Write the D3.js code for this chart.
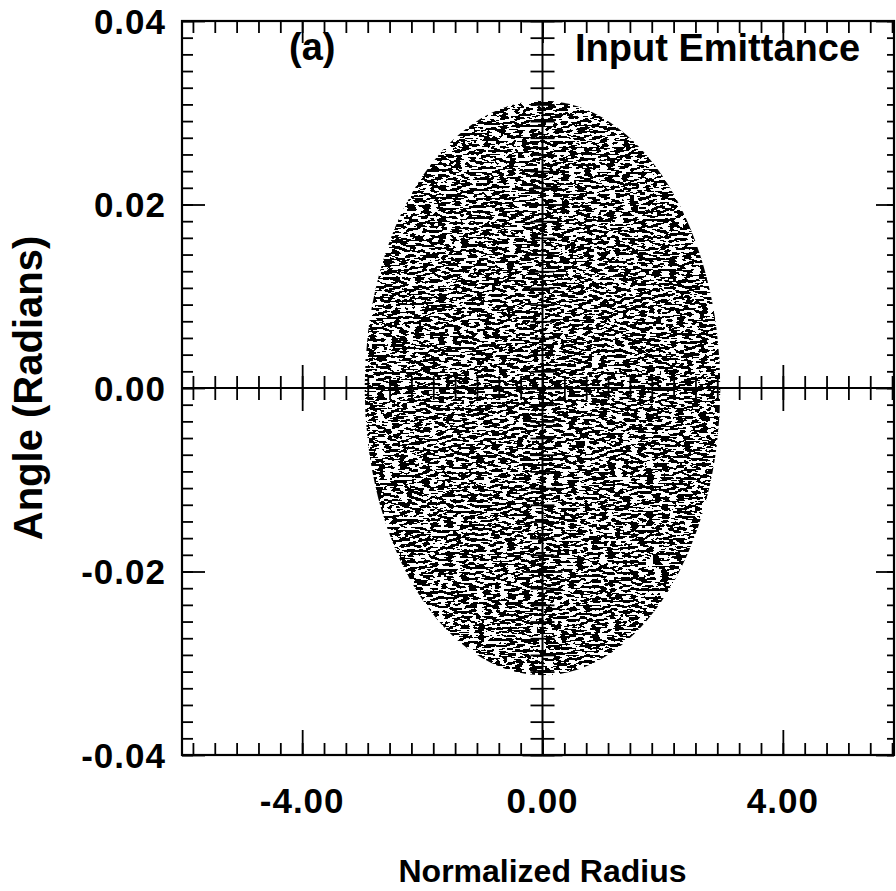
<!DOCTYPE html>
<html lang="en">
<head>
    <meta charset="UTF-8">
    <title>Input Emittance</title>
    <script type="text/javascript" src="https://cdnjs.cloudflare.com/ajax/libs/d3/7.8.5/d3.min.js"></script>
    <style>
        body { margin: 0; background: #fff; }
        text { font-family: "Liberation Sans", Arial, sans-serif; font-weight: bold; fill: #000; }
    </style>
</head>
<body>
<div id="chart"></div>
<script>
    // axis ranges and ticks
    var xDomain = [-6, 5.85];
    var yDomain = [-0.04, 0.04];
    var xMajor = [-4, 0, 4];
    var xLabels = ["-4.00", "0.00", "4.00"];
    var yMajor = [-0.04, -0.02, 0, 0.02, 0.04];
    var yLabels = ["-0.04", "-0.02", "0.00", "0.02", "0.04"];
    var minorPerMajor = 11;

    // the particle cloud fills an upright ellipse centred on the origin
    var cloudCentre = [0, 0];
    var cloudHalfRadius = 2.96;
    var cloudHalfAngle = 0.0313;

    var width = 896, height = 891,
        margin = {top: 21, right: 2, bottom: 136, left: 182};

    var svg = d3.select("#chart")
        .append("svg")
        .attr("width", width)
        .attr("height", height);

    var x = d3.scaleLinear()
        .domain(xDomain)
        .range([margin.left, width - margin.right]);

    var y = d3.scaleLinear()
        .domain(yDomain)
        .range([height - margin.bottom, margin.top]);

    function minorTicks(domain, majors) {
        var step = (majors[1] - majors[0]) / minorPerMajor;
        var out = [];
        for (var i = -200; i <= 200; i++) {
            var v = majors[0] + i * step;
            if (v >= domain[0] - 1e-9 && v <= domain[1] + 1e-9) out.push(v);
        }
        return out;
    }
    var xMinor = minorTicks(xDomain, xMajor);
    var yMinor = minorTicks(yDomain, yMajor);

    // speckle texture for the scattered particles
    var defs = svg.append("defs");
    var f = defs.append("filter")
        .attr("id", "speckle")
        .attr("x", 0).attr("y", 0).attr("width", 1).attr("height", 1);
    f.append("feTurbulence")
        .attr("type", "fractalNoise")
        .attr("baseFrequency", "0.13 0.36")
        .attr("numOctaves", 2)
        .attr("seed", 11)
        .attr("result", "noise");
    f.append("feColorMatrix")
        .attr("in", "noise")
        .attr("type", "matrix")
        .attr("values", "0 0 0 0 0  0 0 0 0 0  0 0 0 0 0  1 0 0 0 0")
        .attr("result", "alpha");
    f.append("feComponentTransfer")
        .attr("in", "alpha")
        .attr("result", "bw")
        .append("feFuncA")
        .attr("type", "discrete")
        .attr("tableValues", "0 0 0 0 0 0 0 0 0 0 1 1 1 1 1 1 1 1 1 1");
    f.append("feComposite")
        .attr("in", "bw")
        .attr("in2", "SourceGraphic")
        .attr("operator", "in");

    svg.append("ellipse")
        .attr("cx", x(cloudCentre[0]))
        .attr("cy", y(cloudCentre[1]))
        .attr("rx", x(cloudHalfRadius) - x(0))
        .attr("ry", y(0) - y(cloudHalfAngle))
        .attr("fill", "#000")
        .attr("filter", "url(#speckle)");

    // frame
    svg.append("rect")
        .attr("x", x(xDomain[0]))
        .attr("y", y(yDomain[1]))
        .attr("width", x(xDomain[1]) - x(xDomain[0]))
        .attr("height", y(yDomain[0]) - y(yDomain[1]))
        .attr("fill", "none")
        .attr("stroke", "#000")
        .attr("stroke-width", 2.2);

    function tickAxis(axisFn, scale, values, size, transform) {
        var g = svg.append("g")
            .attr("class", "axis")
            .attr("transform", transform)
            .call(axisFn(scale).tickValues(values).tickSize(size).tickFormat(""));
        g.select(".domain").remove();
        g.selectAll("line").attr("stroke", "#000").attr("stroke-width", 1.8);
        return g;
    }

    // bottom and top (inward)
    tickAxis(d3.axisTop, x, xMinor, 12, "translate(0," + y(yDomain[0]) + ")");
    tickAxis(d3.axisTop, x, xMajor, 25, "translate(0," + y(yDomain[0]) + ")");
    tickAxis(d3.axisBottom, x, xMinor, 12, "translate(0," + y(yDomain[1]) + ")");
    tickAxis(d3.axisBottom, x, xMajor, 22, "translate(0," + y(yDomain[1]) + ")");
    // left and right (inward)
    tickAxis(d3.axisRight, y, yMinor, 11, "translate(" + x(xDomain[0]) + ",0)");
    tickAxis(d3.axisRight, y, yMajor, 23, "translate(" + x(xDomain[0]) + ",0)");
    tickAxis(d3.axisLeft, y, yMinor, 7, "translate(" + x(xDomain[1]) + ",0)");
    tickAxis(d3.axisLeft, y, yMajor, 18, "translate(" + x(xDomain[1]) + ",0)");

    // cross-hair axes through the origin, ticks on both sides
    svg.append("line")
        .attr("x1", x(xDomain[0])).attr("x2", x(xDomain[1]))
        .attr("y1", y(0)).attr("y2", y(0))
        .attr("stroke", "#000").attr("stroke-width", 2);
    svg.append("line")
        .attr("x1", x(0)).attr("x2", x(0))
        .attr("y1", y(yDomain[0])).attr("y2", y(yDomain[1]))
        .attr("stroke", "#000").attr("stroke-width", 2);
    tickAxis(d3.axisTop, x, xMinor, 12, "translate(0," + y(0) + ")");
    tickAxis(d3.axisBottom, x, xMinor, 12, "translate(0," + y(0) + ")");
    tickAxis(d3.axisTop, x, xMajor, 23, "translate(0," + y(0) + ")");
    tickAxis(d3.axisBottom, x, xMajor, 23, "translate(0," + y(0) + ")");
    tickAxis(d3.axisLeft, y, yMinor, 12, "translate(" + x(0) + ",0)");
    tickAxis(d3.axisRight, y, yMinor, 12, "translate(" + x(0) + ",0)");
    tickAxis(d3.axisLeft, y, yMajor, 20, "translate(" + x(0) + ",0)");
    tickAxis(d3.axisRight, y, yMajor, 20, "translate(" + x(0) + ",0)");

    // tick labels
    svg.append("g").selectAll("text")
        .data(yMajor)
        .join("text")
        .attr("x", x(xDomain[0]) - 16)
        .attr("y", function(d) { return y(d); })
        .attr("dy", "0.36em")
        .attr("text-anchor", "end")
        .style("font-size", "35px")
        .style("letter-spacing", "1px")
        .text(function(d, i) { return yLabels[i]; });

    svg.append("g").selectAll("text")
        .data(xMajor)
        .join("text")
        .attr("x", function(d) { return x(d); })
        .attr("y", 813)
        .attr("text-anchor", "middle")
        .style("font-size", "35px")
        .style("letter-spacing", "1px")
        .text(function(d, i) { return xLabels[i]; });

    // titles
    svg.append("text")
        .attr("x", x(0))
        .attr("y", 882)
        .attr("text-anchor", "middle")
        .style("font-size", "32px")
        .text("Normalized Radius");

    svg.append("text")
        .attr("transform", "translate(42," + y(0) + ") rotate(-90)")
        .attr("text-anchor", "middle")
        .style("font-size", "40px")
        .text("Angle (Radians)");

    svg.append("text")
        .attr("x", 289)
        .attr("y", 60)
        .style("font-size", "38px")
        .text("(a)");

    svg.append("text")
        .attr("x", 575)
        .attr("y", 61)
        .style("font-size", "38px")
        .text("Input Emittance");
</script>
</body>
</html>
